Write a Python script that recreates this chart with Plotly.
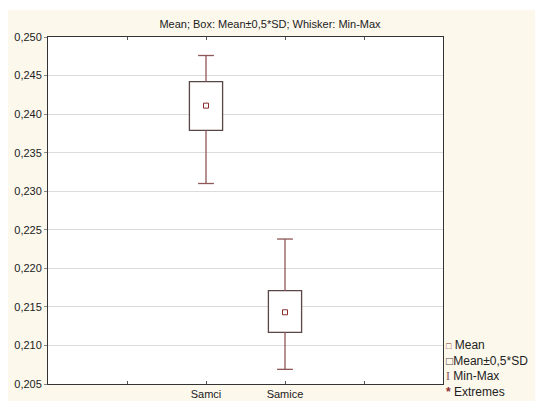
import plotly.graph_objects as go

# ---- data ----
categories = ["Samci", "Samice"]
means = [0.2411, 0.2143]
box_low = [0.2379, 0.2117]    # Mean - 0.5*SD
box_high = [0.2442, 0.2171]   # Mean + 0.5*SD
mins = [0.2310, 0.2069]
maxs = [0.2476, 0.2238]
y_ticks = [0.205, 0.210, 0.215, 0.220, 0.225, 0.230, 0.235, 0.240, 0.245, 0.250]

positions = [i + 2 for i in range(len(categories))]

WHISK = "#8e5656"
BOXC = "#5a4646"
MEANC = "#8a2c2c"
CREAM = "#fcf8ec"
FONT = "Liberation Sans, Arial, sans-serif"
BOX_W = 0.42
CAP_HALF = 0.1

fig = go.Figure()

# boxes (mean +- 0.5 SD)
fig.add_trace(go.Bar(
    x=positions, base=box_low, y=[h - l for h, l in zip(box_high, box_low)],
    width=BOX_W, marker=dict(color="white", line=dict(color=BOXC, width=1.3)),
    showlegend=False, hoverinfo="skip",
))

# whiskers (min-max) built from the data
wx, wy = [], []
for p, lo, hi, mn, mx in zip(positions, box_low, box_high, mins, maxs):
    wx += [p, p, None, p, p, None, p - CAP_HALF, p + CAP_HALF, None, p - CAP_HALF, p + CAP_HALF, None]
    wy += [hi, mx, None, lo, mn, None, mx, mx, None, mn, mn, None]
fig.add_trace(go.Scatter(
    x=wx, y=wy, mode="lines", line=dict(color=WHISK, width=1.3),
    showlegend=False, hoverinfo="skip", connectgaps=False,
))

# means
fig.add_trace(go.Scatter(
    x=positions, y=means, mode="markers",
    marker=dict(symbol="square", size=5, color="white",
                line=dict(color=MEANC, width=1)),
    showlegend=False, hoverinfo="skip",
))

tickvals_x = [1] + positions + [4]
ticktext_x = [""] + categories + [""]

fig.update_layout(
    width=535, height=401,
    margin=dict(l=48, r=92, t=37, b=17, autoexpand=False),
    paper_bgcolor=CREAM, plot_bgcolor="white",
    separators=",.",
    font=dict(family=FONT, size=11, color="#222"),
    barmode="overlay",
    title=dict(text="Mean; Box: Mean±0,5*SD; Whisker: Min-Max",
               xref="container", x=270 / 535, xanchor="center",
               yref="container", y=1 - 24 / 401, yanchor="middle",
               font=dict(family=FONT, size=11, color="#222")),
    xaxis=dict(range=[0, 5], tickmode="array", tickvals=tickvals_x, ticktext=ticktext_x,
               ticks="inside", ticklen=3, tickcolor="#555", showgrid=False, zeroline=False,
               showline=True, linecolor="#333", linewidth=1, mirror="ticks",
               tickfont=dict(size=11, color="#222")),
    yaxis=dict(range=[0.205, 0.250], tickmode="array", tickvals=y_ticks, tickformat=".3f",
               ticks="outside", ticklen=3, tickcolor="#888", showgrid=True, gridcolor="#dcdcdc",
               gridwidth=1, zeroline=False, showline=True, linecolor="#333", linewidth=1,
               mirror=True, tickfont=dict(size=11, color="#222")),
    shapes=[
        dict(type="rect", xref="paper", yref="paper", x0=-48 / 395, x1=487 / 395,
             y0=(384 - 0) / 347, y1=(384 - 10) / 347 + 0.0001, fillcolor="white",
             line=dict(width=0), layer="below"),
        dict(type="rect", xref="paper", yref="paper", x0=-48 / 395, x1=-40 / 395,
             y0=-17 / 347, y1=384 / 347, fillcolor="white",
             line=dict(width=0), layer="below"),
    ],
)

# legend-like block (one annotation, four lines)
legend_text = "<br>".join([
    f"<span style='color:{MEANC};font-size:9px'>□</span> Mean",
    f"<span style='color:{BOXC}'>□</span>Mean±0,5*SD",
    f"<span style='color:{WHISK};font-family:Liberation Serif'>I</span> Min-Max",
    f"<span style='color:{MEANC}'><b>*</b></span> Extremes",
])
fig.add_annotation(text=legend_text, xref="paper", yref="paper",
                   x=(444 - 48) / 395, y=(384 - 401) / 347,
                   xanchor="left", yanchor="bottom", align="left", showarrow=False,
                   font=dict(family=FONT, size=12, color="#222"))

fig.write_html("out.html")
